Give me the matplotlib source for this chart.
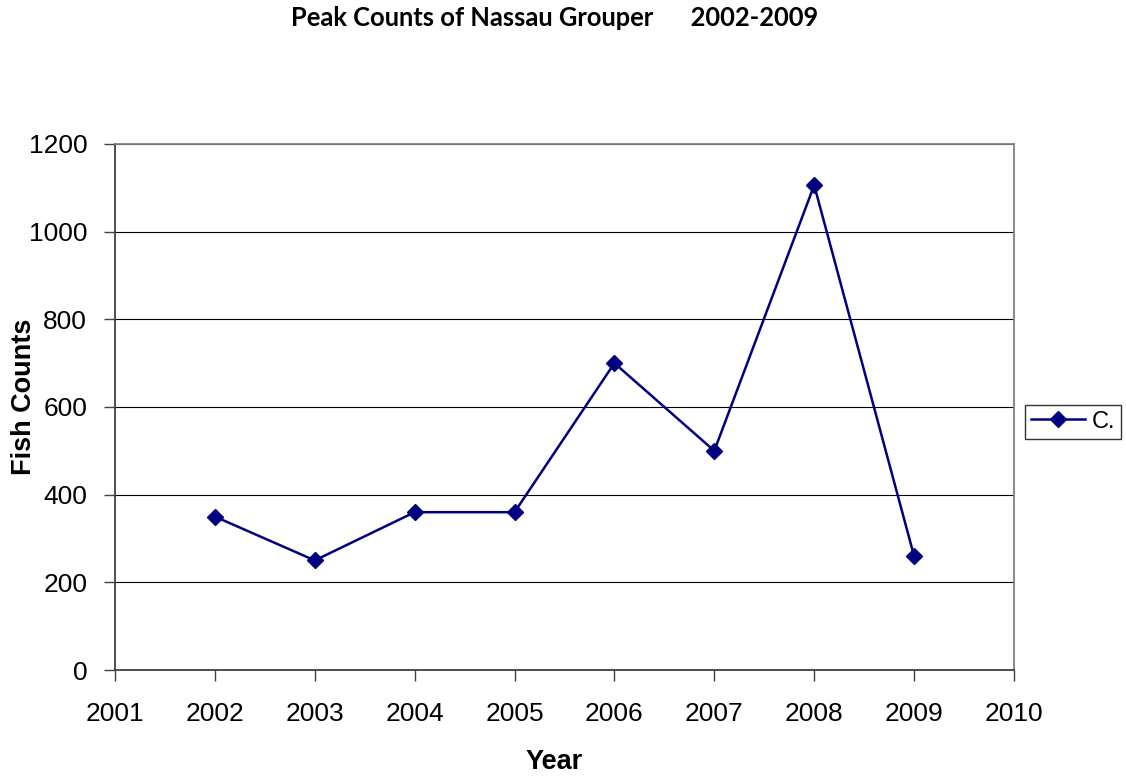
import matplotlib
matplotlib.use("Agg")
import matplotlib.pyplot as plt

years = [2002, 2003, 2004, 2005, 2006, 2007, 2008, 2009]
counts = [350, 250, 360, 360, 700, 500, 1106, 260]
x_ticks = list(range(2001, 2011))
y_ticks = [0, 200, 400, 600, 800, 1000, 1200]

fig = plt.figure(figsize=(11.26, 7.77), dpi=100)
ax = fig.add_axes([0.1021, 0.1377, 0.7984, 0.677])

for y in y_ticks[1:]:
    ax.axhline(y, color="#000000", lw=0.8, zorder=1)

ax.plot(years, counts, color="#000080", lw=1.8, marker="D", markersize=8,
        markerfacecolor="#000080", markeredgecolor="#000080", label="C.", zorder=3)

ax.set_xlim(2001, 2010)
ax.set_ylim(0, 1200)
ax.set_xticks(x_ticks)
ax.set_yticks(y_ticks)
ax.tick_params(axis="both", labelsize=19, direction="out", length=8, width=1,
               color="#404040")
ax.tick_params(axis="x", pad=15)
ax.tick_params(axis="y", pad=12)
for lab in ax.get_xticklabels() + ax.get_yticklabels():
    lab.set_family("Liberation Sans")

for side in ["left", "bottom"]:
    ax.spines[side].set_color("#404040")
    ax.spines[side].set_linewidth(1.3)
for side in ["top", "right"]:
    ax.spines[side].set_color("#808080")
    ax.spines[side].set_linewidth(1.3)

fig.text(0.4925, 0.019, "Year", ha="center", va="center", fontsize=19.5,
         fontweight="bold", family="Liberation Sans")
fig.text(0.021, 0.489, "Fish Counts", ha="center", va="center", rotation=90,
         fontsize=19.5, fontweight="bold", family="Liberation Sans")

fig.text(0.4925, 0.977, "Peak Counts of Nassau Grouper      2002-2009", ha="center", va="center",
         fontsize=18.4, fontweight="bold", family="Lato")

leg = fig.legend(loc="upper left", bbox_to_anchor=(0.910, 0.479), frameon=True, fancybox=False,
                 edgecolor="#000000", handlelength=2.3, borderpad=0.25, handletextpad=0.3,
                 borderaxespad=0.0,
                 prop={"family": "Liberation Sans", "size": 17})
leg.get_frame().set_linewidth(1.0)

fig.savefig("out.png", dpi=100)
